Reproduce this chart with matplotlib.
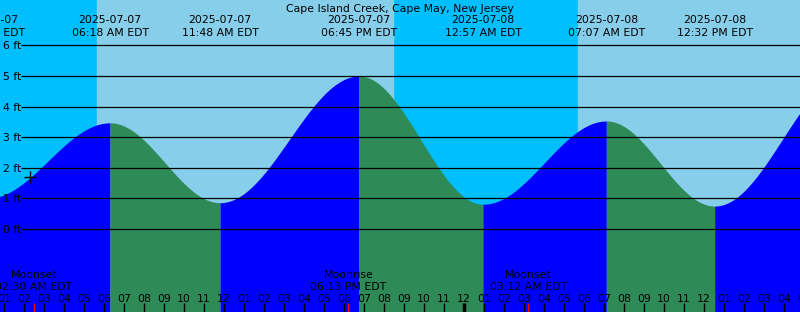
import numpy as np
import matplotlib
matplotlib.use("Agg")
import matplotlib.pyplot as plt

plt.rcParams['font.family'] = ['DejaVu Sans']

title = "Cape Island Creek, Cape May, New Jersey"

# tide extremes, hours from 2025-07-07 00:00 EDT
tide_hours = [0.15, 6.30, 11.80, 18.75, 24.95, 31.117, 36.533, 43.3]
tide_heights = [1.0, 3.47, 0.86, 5.0, 0.81, 3.53, 0.75, 5.1]
tide_dates = ["2025-07-07", "2025-07-07", "2025-07-07", "2025-07-07",
              "2025-07-08", "2025-07-08", "2025-07-08"]
tide_times = ["12:09 AM EDT", "06:18 AM EDT", "11:48 AM EDT", "06:45 PM EDT",
              "12:57 AM EDT", "07:07 AM EDT", "12:32 PM EDT"]

sunrise = [5.65, 29.7]
sunset = [20.45, 44.0]

moon_hours = [2.5, 18.217, 27.2]
moon_names = ["Moonset", "Moonrise", "Moonset"]
moon_times = ["02:30 AM EDT", "06:13 PM EDT", "03:12 AM EDT"]

now_hour = 2.3
now_height = 1.71

ft_levels = [0, 1, 2, 3, 4, 5, 6]

BLUE = "#0000FF"
GREEN = "#2E8B57"
DAY = "#87CEEB"
NIGHT = "#00BFFF"

# pixel helpers (figure is 800x312, 20 px per hour, 30.6 px per foot)
X0, X1 = 0.8, 40.8
def py(ypix):
    return (229 - ypix) / 30.6
def hx(xpix):
    return X0 + xpix / 20.0

fig = plt.figure(figsize=(8, 3.12), dpi=100)
ax = fig.add_axes([0, 0, 1, 1])
ax.set_xlim(X0, X1)
ax.set_ylim(py(312), py(0))
ax.axis("off")

# sky
ax.axvspan(X0, X1, color=NIGHT, zorder=0)
for r, s in zip(sunrise, sunset):
    ax.axvspan(r, s, color=DAY, zorder=0.5)

# tide curve, cosine between extremes
for i in range(len(tide_hours) - 1):
    t0, t1 = tide_hours[i], tide_hours[i + 1]
    h0, h1 = tide_heights[i], tide_heights[i + 1]
    t = np.linspace(t0, t1, 300)
    h = h0 + (h1 - h0) * (1 - np.cos(np.pi * (t - t0) / (t1 - t0))) / 2
    col = BLUE if h1 > h0 else GREEN
    ax.fill_between(t, h, py(320), color=col, lw=0, zorder=1)

# level lines
ax.hlines(ft_levels, hx(21), X1, color="black", lw=0.9, zorder=2)
for lv in ft_levels:
    ax.text(hx(3), py(229 - lv * 30.6 + 4), "%d ft" % lv, fontsize=7.8,
            ha="left", va="baseline", zorder=3)

fs = 7.8
ax.text(hx(400), py(12), title, fontsize=fs, ha="center", va="baseline", zorder=3)
for t, d, tm in zip(tide_hours, tide_dates, tide_times):
    ax.text(t, py(23), d, fontsize=fs, ha="center", va="baseline", zorder=3)
    ax.text(t, py(35.5), tm, fontsize=fs, ha="center", va="baseline", zorder=3)

# moon events
for t, n, tm in zip(moon_hours, moon_names, moon_times):
    ax.text(t, py(278), n, fontsize=fs, ha="center", va="baseline", zorder=3)
    ax.text(t, py(290), tm, fontsize=fs, ha="center", va="baseline", zorder=3)
    ax.vlines(t, py(312), py(303), color="red", lw=1, zorder=3)

# hour ticks and labels
for hr in range(0, 42):
    lab = "%02d" % ((hr - 1) % 12 + 1)
    ax.text(hr, py(301.5), lab, fontsize=fs, ha="center", va="baseline", zorder=3)
    w = 2.5 if hr % 24 == 0 else 1
    ax.vlines(hr, py(312), py(303), color="black", lw=w, zorder=3)

ax.plot([now_hour], [now_height], marker="+", color="black", ms=8, mew=1, zorder=4)

fig.savefig("out.png", dpi=100)
